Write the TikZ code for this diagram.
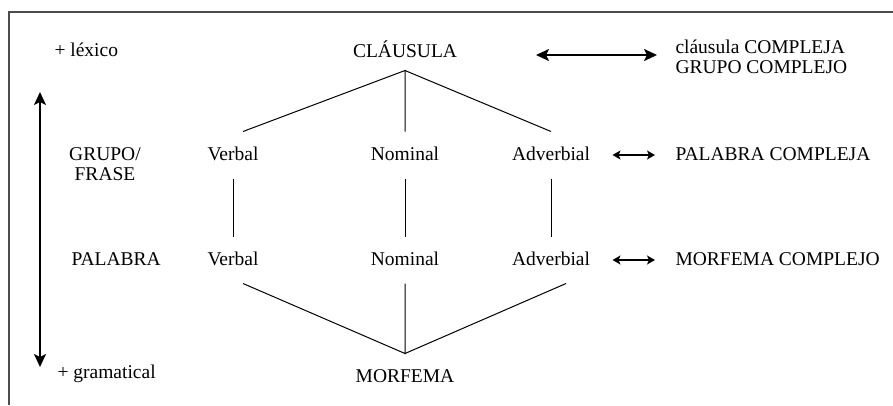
\documentclass[tikz,border=0pt]{standalone}
\usepackage{fontspec}
\setmainfont{Liberation Serif}
\usepackage{tikz}
\usetikzlibrary{arrows.meta}

\tikzset{
  lvl/.style={inner xsep=0pt, inner ysep=14pt, text height=14pt, text depth=4pt, anchor=base},
  lbl/.style={inner sep=0pt, anchor=base west},
  bigarr/.style={line width=2.2pt, {Stealth[length=13pt,width=12pt,inset=3pt]}-{Stealth[length=13pt,width=12pt,inset=3pt]}},
  smallarr/.style={line width=1.8pt, {Stealth[length=8pt,width=9pt,inset=2pt]}-{Stealth[length=8pt,width=9pt,inset=2pt]}},
}

\begin{document}
\begin{tikzpicture}[x=1pt, y=-1pt, line width=1pt, font=\fontsize{19.5}{23}\selectfont]
  \useasboundingbox (0,0) rectangle (893,405);
  % frame
  \draw[gray!60!black, line width=1.4pt] (9,405) -- (9,12) -- (893,12);

  % left scale
  \node[lbl] (lex) at (54,56) {+ léxico};
  \node[lbl] (gram) at (57,378) {+ gramatical};
  \coordinate (up) at (40,92);
  \coordinate (down) at (40,367);
  \draw[bigarr] (down) -- (up);
  \node[align=center, inner sep=0pt] (grupo) at (105,164) {GRUPO/\\[-3pt]FRASE};
  \node[lbl] (pal) at (71,265) {PALABRA};

  % levels
  \node[lvl, inner ysep=9pt] (cl) at (405,57) {CLÁUSULA};
  \node[lvl] (mo) at (405,382) {MORFEMA};
  \foreach \n/\x/\t in {v/233/Verbal, n/405/Nominal, a/551/Adverbial} {
    \node[lvl] (\n1) at (\x,160) {\t};
    \node[lvl] (\n2) at (\x,265) {\t};
    \draw (\n1.south) -- (\n2.north);
  }
  \draw ([xshift=10pt]v1.north) -- (cl.south) -- (n1.north);
  \draw (cl.south) -- (a1.north);
  \draw ([xshift=10pt]v2.south) -- (mo.north) -- (n2.south);
  \draw (mo.north) -- ([xshift=15pt]a2.south);

  % complexes
  \node[align=left, inner sep=0pt, anchor=west] (cc) at (675,57) {cláusula COMPLEJA\\[-3pt]GRUPO COMPLEJO};
  \node[lvl, anchor=base west] (pc) at (675,160) {PALABRA COMPLEJA};
  \node[lvl, anchor=base west] (mc) at (675,265) {MORFEMA COMPLEJO};
  \coordinate (t1) at (536,55);
  \coordinate (t2) at (657,55);
  \draw[bigarr] (t1) -- (t2);
  \draw[smallarr, shorten <=22pt, shorten >=20pt] (a1.east) -- (pc.west);
  \draw[smallarr, shorten <=22pt, shorten >=20pt] (a2.east) -- (mc.west);
\end{tikzpicture}
\end{document}
